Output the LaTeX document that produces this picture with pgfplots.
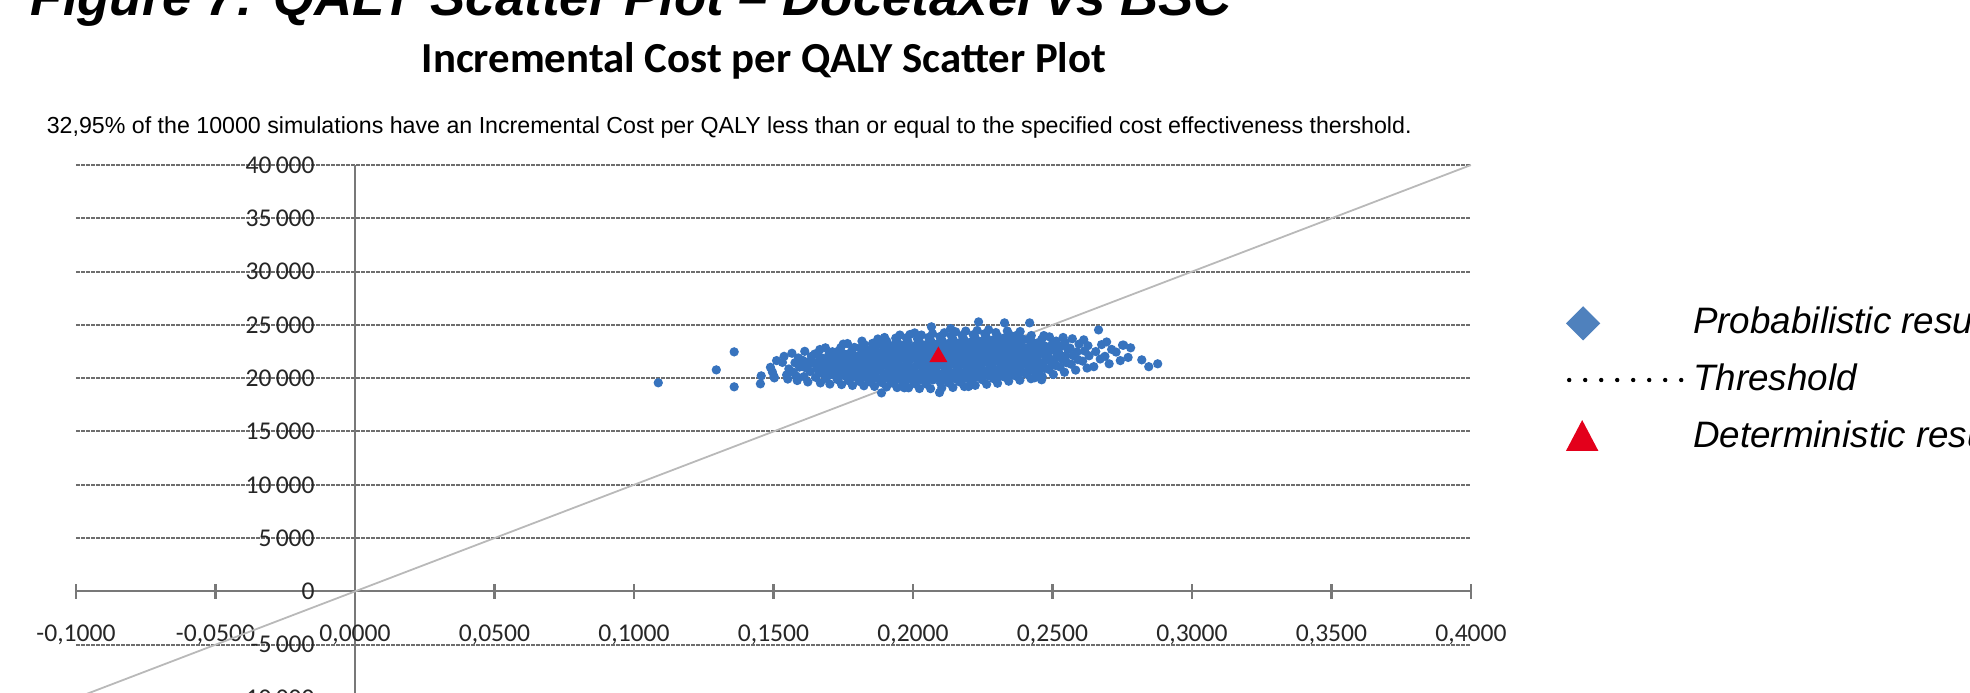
\documentclass[border=0pt]{standalone}
\usepackage{fontspec}
\setmainfont{Carlito}
\newfontfamily\arialfont{Liberation Sans}
\usepackage{pgfplots}
\pgfplotsset{compat=1.18}
\usepackage{pgfplotstable}

\definecolor{ptblue}{RGB}{55,115,190}
\definecolor{legblue}{RGB}{79,129,189}
\definecolor{detred}{RGB}{227,0,27}
\definecolor{gridgray}{RGB}{110,110,110}
\definecolor{axgray}{RGB}{120,120,120}
\definecolor{thrgray}{RGB}{185,185,185}

% probabilistic results (incremental QALY, incremental cost), read off the cloud
\pgfplotstableread{
x y
0.1087 19570
0.1295 20780
0.1359 22470
0.1359 19190
0.1456 20220
0.1453 19470
0.1503 20030
0.1502 20150
0.1489 21020
0.1511 21650
0.1496 20580
0.1547 20310
0.1532 21480
0.1555 20870
0.1538 22050
0.1551 19920
0.1585 19780
0.1571 20560
0.1593 21040
0.1577 21450
0.1589 21900
0.1566 22340
0.1581 20210
0.1623 19650
0.1609 20150
0.1631 20620
0.1615 20980
0.1627 21310
0.1604 21680
0.1636 22050
0.1612 22520
0.1621 21520
0.1668 19560
0.1651 20080
0.1674 20450
0.1659 20790
0.1677 21100
0.1645 21380
0.1663 21620
0.1671 21930
0.1648 22270
0.1666 22690
0.1656 20960
0.1702 19450
0.1689 19980
0.1713 20320
0.1695 20650
0.1708 20900
0.1684 21170
0.1717 21410
0.1691 21660
0.1705 21900
0.1698 22180
0.1711 22480
0.1686 22850
0.1700 21280
0.1744 19400
0.1729 19870
0.1752 20250
0.1735 20560
0.1748 20830
0.1723 21070
0.1757 21300
0.1738 21520
0.1746 21760
0.1727 22000
0.1754 22260
0.1733 22540
0.1741 22860
0.1750 23200
0.1736 21180
0.1783 19320
0.1769 19760
0.1792 20130
0.1774 20450
0.1788 20720
0.1763 20960
0.1797 21190
0.1777 21400
0.1786 21610
0.1767 21830
0.1794 22060
0.1772 22310
0.1781 22580
0.1790 22890
0.1765 23250
0.1779 21050
0.1795 21720
0.1824 19290
0.1808 19700
0.1833 20050
0.1815 20360
0.1829 20620
0.1803 20860
0.1838 21080
0.1812 21280
0.1827 21480
0.1819 21680
0.1836 21880
0.1806 22090
0.1822 22310
0.1831 22550
0.1811 22820
0.1826 23130
0.1817 23480
0.1834 20940
0.1813 21580
0.1862 19230
0.1847 19640
0.1871 19990
0.1853 20290
0.1866 20560
0.1843 20800
0.1876 21020
0.1851 21220
0.1864 21420
0.1857 21610
0.1873 21800
0.1845 22000
0.1860 22210
0.1869 22430
0.1849 22680
0.1867 22950
0.1855 23270
0.1874 23680
0.1858 20680
0.1844 21900
0.1887 18620
0.1905 19180
0.1888 19590
0.1913 19950
0.1894 20250
0.1909 20510
0.1883 20750
0.1917 20970
0.1891 21170
0.1903 21370
0.1897 21560
0.1912 21750
0.1886 21950
0.1900 22150
0.1908 22370
0.1893 22600
0.1915 22860
0.1889 23150
0.1906 23470
0.1898 23820
0.1911 21050
0.1885 22280
0.1943 19120
0.1928 19540
0.1952 19900
0.1934 20210
0.1947 20480
0.1923 20720
0.1956 20940
0.1931 21140
0.1945 21340
0.1937 21530
0.1950 21720
0.1926 21910
0.1941 22110
0.1949 22320
0.1932 22550
0.1955 22800
0.1929 23080
0.1944 23400
0.1938 23760
0.1953 24050
0.1924 21430
0.1946 22650
0.1969 19100
0.1984 19100
0.1967 19520
0.1991 19880
0.1973 20190
0.1987 20460
0.1962 20710
0.1995 20930
0.1970 21140
0.1983 21340
0.1977 21540
0.1990 21730
0.1964 21930
0.1980 22130
0.1988 22350
0.1971 22580
0.1993 22840
0.1968 23120
0.1982 23440
0.1976 23790
0.1989 24100
0.1966 22250
0.1985 21030
0.2023 19030
0.2008 19470
0.2031 19840
0.2014 20160
0.2027 20440
0.2003 20690
0.2035 20920
0.2011 21130
0.2025 21330
0.2018 21530
0.2033 21730
0.2005 21930
0.2021 22130
0.2029 22340
0.2012 22560
0.2034 22800
0.2009 23060
0.2024 23360
0.2016 23700
0.2030 24050
0.2006 24250
0.2019 21630
0.2032 22460
0.2063 19020
0.2047 19460
0.2071 19830
0.2053 20150
0.2068 20430
0.2043 20690
0.2075 20930
0.2051 21150
0.2065 21360
0.2057 21570
0.2072 21780
0.2045 21990
0.2061 22200
0.2069 22420
0.2052 22650
0.2074 22900
0.2049 23170
0.2064 23480
0.2056 23830
0.2070 24180
0.2066 24820
0.2058 21050
0.2044 22560
0.2103 19080
0.2095 18650
0.2111 19880
0.2093 20190
0.2108 20480
0.2083 20740
0.2116 20980
0.2091 21200
0.2105 21410
0.2097 21620
0.2113 21830
0.2086 22040
0.2101 22250
0.2109 22470
0.2092 22700
0.2115 22950
0.2088 23230
0.2104 23550
0.2096 23900
0.2112 24260
0.2099 19540
0.2084 21510
0.2117 22360
0.2143 19130
0.2128 19560
0.2152 19930
0.2134 20250
0.2148 20530
0.2123 20790
0.2156 21030
0.2131 21250
0.2145 21460
0.2137 21670
0.2150 21880
0.2126 22090
0.2141 22300
0.2149 22520
0.2132 22750
0.2155 23000
0.2129 23280
0.2144 23600
0.2138 23950
0.2153 24350
0.2124 20910
0.2146 22190
0.2135 24650
0.2184 19220
0.2167 19650
0.2191 20010
0.2173 20320
0.2187 20600
0.2162 20850
0.2195 21080
0.2170 21300
0.2183 21510
0.2177 21720
0.2190 21930
0.2164 22140
0.2180 22350
0.2188 22570
0.2171 22800
0.2193 23060
0.2168 23340
0.2182 23660
0.2176 24010
0.2189 24420
0.2199 19220
0.2166 21410
0.2223 19330
0.2207 19760
0.2231 20110
0.2213 20410
0.2227 20680
0.2203 20920
0.2235 21150
0.2211 21370
0.2225 21580
0.2218 21790
0.2233 22000
0.2205 22210
0.2221 22420
0.2229 22640
0.2212 22870
0.2234 23130
0.2209 23410
0.2224 23730
0.2216 24080
0.2230 24470
0.2235 25280
0.2206 21700
0.2264 19430
0.2248 19860
0.2272 20210
0.2254 20510
0.2268 20780
0.2243 21020
0.2276 21250
0.2251 21470
0.2266 21680
0.2258 21890
0.2273 22100
0.2245 22310
0.2261 22520
0.2269 22740
0.2252 22970
0.2275 23230
0.2249 23510
0.2263 23830
0.2257 24170
0.2271 24540
0.2246 22040
0.2303 19530
0.2288 19960
0.2312 20310
0.2294 20610
0.2308 20880
0.2283 21120
0.2315 21350
0.2291 21570
0.2305 21780
0.2298 21990
0.2313 22200
0.2285 22410
0.2301 22620
0.2309 22840
0.2292 23070
0.2314 23330
0.2289 23610
0.2304 23930
0.2297 24280
0.2306 20130
0.2328 25190
0.2343 19720
0.2327 20120
0.2351 20450
0.2334 20740
0.2347 21000
0.2323 21240
0.2355 21470
0.2331 21690
0.2345 21900
0.2337 22110
0.2352 22320
0.2325 22530
0.2341 22750
0.2349 22980
0.2332 23220
0.2354 23490
0.2329 23790
0.2344 24120
0.2338 24430
0.2383 19810
0.2367 20220
0.2391 20550
0.2374 20840
0.2387 21100
0.2362 21340
0.2395 21570
0.2371 21790
0.2385 22000
0.2377 22210
0.2392 22420
0.2365 22640
0.2381 22870
0.2389 23110
0.2372 23370
0.2394 23660
0.2369 23990
0.2384 24380
0.2423 19950
0.2407 20380
0.2431 20720
0.2414 21010
0.2427 21270
0.2403 21510
0.2435 21740
0.2411 21960
0.2425 22170
0.2418 22380
0.2433 22600
0.2405 22830
0.2421 23070
0.2429 23340
0.2412 23640
0.2418 25190
0.2436 20040
0.2424 24000
0.2463 20150
0.2447 20580
0.2471 20920
0.2454 21220
0.2467 21500
0.2443 21770
0.2475 22020
0.2451 22260
0.2465 22500
0.2458 22750
0.2473 23010
0.2445 23300
0.2461 23620
0.2469 24000
0.2461 19850
0.2503 20350
0.2487 20820
0.2511 21190
0.2494 21510
0.2508 21800
0.2483 22070
0.2515 22330
0.2491 22590
0.2505 22860
0.2498 23150
0.2513 23480
0.2489 23880
0.2543 20560
0.2527 21060
0.2551 21450
0.2534 21790
0.2548 22100
0.2523 22400
0.2555 22700
0.2531 23020
0.2545 23380
0.2538 23820
0.2583 20760
0.2567 21310
0.2591 21740
0.2574 22120
0.2588 22470
0.2563 22820
0.2595 23200
0.2571 23700
0.2624 20950
0.2608 21600
0.2631 22100
0.2615 22560
0.2627 23050
0.2612 23600
0.2665 24530
0.2648 21080
0.2671 21800
0.2655 22500
0.2676 23150
0.2703 21350
0.2688 22050
0.2712 22700
0.2694 23400
0.2743 21650
0.2728 22450
0.2751 23100
0.2755 23100
0.2780 22850
0.2771 21950
0.2820 21720
0.2845 21080
0.2877 21350
}\probdata

\begin{document}
\begin{tikzpicture}
% page = the cropped screenshot, 0.25pt per pixel
\useasboundingbox (0,0) rectangle (492.5pt,-173.25pt);
\clip (0,0) rectangle (492.5pt,-173.25pt);

\node[anchor=base west, inner sep=0pt,
  font=\arialfont\bfseries\itshape\fontsize{13.2}{15}\selectfont]
  at (7.5pt,-4pt) {Figure 7: QALY Scatter Plot – Docetaxel vs BSC};
\node[anchor=base, inner sep=0pt, font=\bfseries\fontsize{10.7}{12}\selectfont]
  at (191pt,-18.25pt) {Incremental Cost per QALY Scatter Plot};
\node[anchor=base west, inner sep=0pt, font=\arialfont\fontsize{5.8}{7}\selectfont]
  at (11.5pt,-33.5pt) {32,95\% of the 10000 simulations have an Incremental Cost per QALY less than or equal to the specified cost effectiveness thershold.};

\begin{axis}[
  at={(19pt,-174.5pt)}, anchor=south west,
  scale only axis, width=348.75pt, height=133.25pt,
  xmin=-0.1, xmax=0.4, ymin=-10000, ymax=40000,
  axis lines=middle,
  axis line style={-, draw=axgray, line width=0.55pt},
  x axis line style={-}, y axis line style={-},
  scaled y ticks=false, scaled x ticks=false,
  xtick={-0.1,-0.05,0,0.05,0.1,0.15,0.2,0.25,0.3,0.35,0.4},
  xticklabels={{-0,1000},{-0,0500},{0,0000},{0,0500},{0,1000},{0,1500},
    {0,2000},{0,2500},{0,3000},{0,3500},{0,4000}},
  ytick={-10000,-5000,0,5000,10000,15000,20000,25000,30000,35000,40000},
  yticklabels={{-10\,000},{-5\,000},{0},{5\,000},{10\,000},{15\,000},
    {20\,000},{25\,000},{30\,000},{35\,000},{40\,000}},
  hide obscured x ticks=false, hide obscured y ticks=false,
  ymajorgrids,
  grid style={gridgray, line width=0.5pt, dash pattern=on 0.9pt off 0.35pt},
  tick align=center, major tick length=3.75pt,
  xtick style={axgray, line width=0.55pt},
  ytick style={draw=none},
  tick label style={font=\fontsize{6.4}{7}\selectfont, text=black!85},
  xticklabel style={anchor=center, inner sep=0pt, yshift=-9pt},
  yticklabel style={anchor=east, inner sep=0pt, xshift=-8pt},
  legend cell align=left,
  legend style={at={(axis description cs:1.0688,0.5966)}, anchor=west,
    draw=none, fill=none, inner sep=0pt, outer sep=0pt,
    row sep=6pt, column sep=0pt,
    nodes={inner sep=0pt, outer sep=0pt},
    font=\arialfont\itshape\fontsize{9.2}{11}\selectfont},
]
\addplot[thrgray, line width=0.45pt, forget plot]
  coordinates {(-0.1,-10000) (0.4,40000)};
\addplot[only marks, mark=*, mark size=0.95pt, ptblue, forget plot]
  table[x=x, y=y] {\probdata};
\addplot[only marks, mark=triangle*, mark size=2.2pt, detred, forget plot]
  coordinates {(0.2091,22000)};

\addlegendimage{legend image code/.code={
  \path[draw=none, fill=none] (0pt,-3.5pt) rectangle (31.5pt,3.5pt);
  \draw[legblue, mark=square*, mark size=2.83pt, mark options={rotate=45, fill=legblue, draw=legblue}]
    plot coordinates {(4pt,0pt)};}}
\addlegendentry{Probabilistic results}
\addlegendimage{legend image code/.code={
  \path[draw=none, fill=none] (0pt,-3.5pt) rectangle (31.5pt,3.5pt);
  \draw[black, line width=1.1pt, line cap=round, dash pattern=on 0pt off 4pt]
    (0.5pt,0pt) -- (28.5pt,0pt);}}
\addlegendentry{Threshold}
\addlegendimage{legend image code/.code={
  \path[draw=none, fill=none] (0pt,-3.5pt) rectangle (31.5pt,3.5pt);
  \draw[detred, mark=triangle*, mark size=4.3pt, mark options={fill=detred, draw=detred, yscale=1.1}]
    plot coordinates {(3.75pt,-1pt)};}}
\addlegendentry{Deterministic results}
\end{axis}
\end{tikzpicture}
\end{document}
